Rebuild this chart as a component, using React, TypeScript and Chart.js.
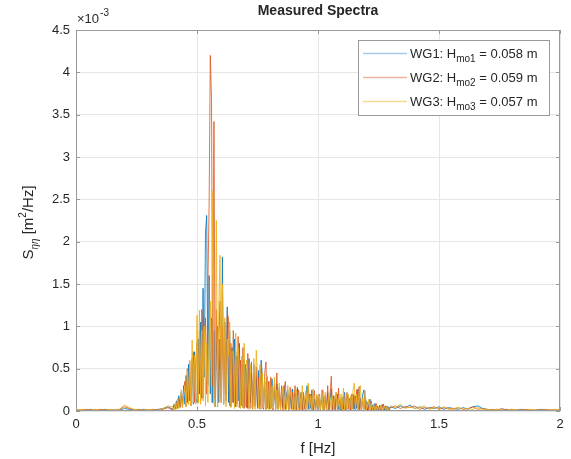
import { useEffect, useRef } from 'react';
import { Chart, registerables } from 'chart.js';
Chart.register(...registerables);

// Frequency grids [Hz]: coarse below 0.4 Hz, fine in the energetic band, coarse above 1.3 Hz
const fLow = Array.from({ length: 20 }, (_, i) => +(i * 0.02).toFixed(3));
const fMid = Array.from({ length: 180 }, (_, i) => +(0.4 + i * 0.005).toFixed(3));
const fHigh = Array.from({ length: 36 }, (_, i) => +(1.3 + i * 0.02).toFixed(3));
const freq = [...fLow, ...fMid, ...fHigh];

// Spectral density values in units of 1e-3 m^2/Hz
const wg1Spec = [
  // 0 - 0.38
  0.01, 0.01, 0.01, 0.02, 0.01, 0.01, 0.02, 0.01, 0.01, 0.01, 0.03, 0.02, 0.01, 0.01, 0.02, 0.01, 0.01, 0.02, 0.03, 0.05,
  // 0.400 - 1.295
  0.02, 0.08, 0.03, 0.12, 0.04, 0.18, 0.05, 0.22, 0.06, 0.30,
  0.08, 0.42, 0.10, 0.55, 0.12, 0.38, 0.62, 0.08, 0.70, 0.15,
  0.10, 0.85, 0.20, 1.05, 0.15, 1.45, 0.40, 2.10, 2.31, 0.30,
  1.60, 0.20, 1.10, 0.10, 0.95, 0.05, 0.70, 1.00, 0.10, 0.85,
  0.15, 1.82, 0.08, 1.05, 0.20, 1.23, 0.10, 0.95, 0.05, 0.75,
  0.10, 0.85, 0.05, 0.65, 0.12, 0.80, 0.06, 0.55, 0.04, 0.60,
  0.08, 0.50, 0.03, 0.62, 0.10, 0.45, 0.05, 0.55, 0.08, 0.40,
  0.04, 0.48, 0.06, 0.60, 0.42, 0.03, 0.35, 0.02, 0.40, 0.05,
  0.30, 0.03, 0.38, 0.05, 0.28, 0.02, 0.32, 0.04, 0.25, 0.02,
  0.22, 0.04, 0.30, 0.02, 0.20, 0.25, 0.02, 0.18, 0.03, 0.26,
  0.02, 0.20, 0.02, 0.28, 0.04, 0.03, 0.22, 0.01, 0.18, 0.03,
  0.16, 0.30, 0.02, 0.20, 0.03, 0.25, 0.01, 0.14, 0.02, 0.18,
  0.02, 0.15, 0.01, 0.20, 0.03, 0.01, 0.18, 0.02, 0.22, 0.01,
  0.15, 0.26, 0.02, 0.18, 0.01, 0.14, 0.20, 0.02, 0.12, 0.01,
  0.16, 0.02, 0.22, 0.01, 0.13, 0.18, 0.01, 0.15, 0.02, 0.20,
  0.02, 0.18, 0.03, 0.26, 0.01, 0.15, 0.02, 0.20, 0.25, 0.02,
  0.12, 0.01, 0.08, 0.14, 0.01, 0.07, 0.01, 0.09, 0.01, 0.06,
  0.01, 0.07, 0.01, 0.05, 0.08, 0.01, 0.06, 0.01, 0.05, 0.01,
  // 1.30 - 2.00
  0.05, 0.03, 0.06, 0.04, 0.07, 0.03, 0.05, 0.02, 0.04, 0.03,
  0.05, 0.02, 0.04, 0.03, 0.02, 0.04, 0.02, 0.05, 0.06, 0.03,
  0.02, 0.01, 0.02, 0.01, 0.02, 0.01, 0.01, 0.02, 0.01, 0.01,
  0.01, 0.02, 0.01, 0.01, 0.01, 0.01,
];

const wg2Spec = [
  0.01, 0.01, 0.02, 0.01, 0.01, 0.02, 0.01, 0.01, 0.01, 0.02, 0.05, 0.03, 0.01, 0.02, 0.01, 0.01, 0.02, 0.01, 0.02, 0.04,
  0.01, 0.06, 0.02, 0.10, 0.03, 0.14, 0.04, 0.20, 0.05, 0.26,
  0.35, 0.05, 0.50, 0.08, 0.58, 0.06, 0.45, 0.70, 0.10, 0.55,
  0.80, 0.10, 0.95, 0.12, 1.20, 0.15, 0.90, 1.10, 0.20, 1.50,
  2.40, 4.20, 3.67, 0.30, 3.42, 0.15, 1.20, 0.05, 0.80, 1.30,
  0.10, 1.00, 0.08, 0.85, 0.12, 1.15, 1.10, 0.06, 0.80, 0.10,
  0.95, 0.05, 0.70, 0.08, 0.88, 0.04, 0.60, 0.06, 0.75, 0.03,
  0.55, 0.04, 0.68, 0.05, 0.03, 0.58, 0.02, 0.45, 0.05, 0.52,
  0.03, 0.40, 0.02, 0.50, 0.04, 0.02, 0.45, 0.58, 0.03, 0.35,
  0.02, 0.40, 0.04, 0.01, 0.32, 0.03, 0.45, 0.02, 0.28, 0.03,
  0.30, 0.01, 0.24, 0.35, 0.02, 0.20, 0.01, 0.28, 0.02, 0.22,
  0.02, 0.30, 0.01, 0.18, 0.25, 0.01, 0.20, 0.01, 0.22, 0.02,
  0.01, 0.18, 0.28, 0.02, 0.20, 0.01, 0.15, 0.24, 0.01, 0.16,
  0.02, 0.20, 0.01, 0.15, 0.25, 0.01, 0.18, 0.02, 0.30, 0.02,
  0.20, 0.41, 0.01, 0.18, 0.02, 0.22, 0.01, 0.27, 0.01, 0.15,
  0.01, 0.18, 0.02, 0.01, 0.22, 0.02, 0.15, 0.01, 0.20, 0.02,
  0.18, 0.01, 0.25, 0.02, 0.29, 0.03, 0.01, 0.15, 0.02, 0.18,
  0.01, 0.10, 0.01, 0.08, 0.12, 0.01, 0.07, 0.01, 0.09, 0.01,
  0.01, 0.06, 0.01, 0.08, 0.01, 0.05, 0.01, 0.06, 0.01, 0.04,
  0.04, 0.06, 0.03, 0.05, 0.04, 0.06, 0.02, 0.04, 0.03, 0.05,
  0.02, 0.04, 0.03, 0.02, 0.04, 0.02, 0.03, 0.05, 0.02, 0.03,
  0.01, 0.02, 0.01, 0.03, 0.01, 0.02, 0.01, 0.01, 0.02, 0.01,
  0.01, 0.01, 0.02, 0.01, 0.01, 0.01,
];

const wg3Spec = [
  0.01, 0.02, 0.01, 0.01, 0.02, 0.01, 0.01, 0.02, 0.01, 0.02, 0.07, 0.04, 0.02, 0.01, 0.01, 0.02, 0.01, 0.01, 0.03, 0.06,
  0.05, 0.01, 0.09, 0.02, 0.15, 0.03, 0.08, 0.25, 0.04, 0.20,
  0.30, 0.05, 0.48, 0.08, 0.60, 0.06, 0.84, 0.10, 0.66, 0.08,
  1.13, 0.10, 1.19, 0.08, 0.95, 0.12, 1.00, 0.06, 0.80, 0.10,
  0.90, 1.30, 0.10, 2.60, 0.08, 0.05, 2.25, 0.06, 1.20, 1.84,
  0.10, 1.50, 0.08, 1.10, 0.05, 0.85, 0.65, 1.05, 0.04, 0.70,
  0.70, 0.03, 0.92, 0.05, 0.75, 0.50, 0.03, 0.65, 0.04, 0.80,
  0.05, 0.60, 0.45, 0.02, 0.55, 0.04, 0.03, 0.62, 0.02, 0.72,
  0.40, 0.03, 0.55, 0.02, 0.45, 0.04, 0.38, 0.01, 0.42, 0.02,
  0.35, 0.02, 0.30, 0.03, 0.40, 0.01, 0.25, 0.02, 0.33, 0.01,
  0.20, 0.28, 0.01, 0.22, 0.02, 0.30, 0.01, 0.20, 0.25, 0.01,
  0.18, 0.01, 0.26, 0.02, 0.01, 0.22, 0.02, 0.30, 0.01, 0.16,
  0.24, 0.02, 0.33, 0.01, 0.18, 0.02, 0.26, 0.03, 0.01, 0.20,
  0.01, 0.18, 0.02, 0.25, 0.01, 0.01, 0.22, 0.02, 0.01, 0.20,
  0.12, 0.01, 0.18, 0.02, 0.15, 0.22, 0.01, 0.14, 0.02, 0.20,
  0.02, 0.27, 0.01, 0.15, 0.02, 0.20, 0.01, 0.18, 0.02, 0.25,
  0.33, 0.02, 0.20, 0.01, 0.22, 0.30, 0.02, 0.15, 0.01, 0.24,
  0.02, 0.06, 0.14, 0.01, 0.09, 0.01, 0.08, 0.01, 0.06, 0.01,
  0.05, 0.01, 0.07, 0.01, 0.02, 0.06, 0.01, 0.05, 0.01, 0.04,
  0.06, 0.04, 0.08, 0.03, 0.05, 0.03, 0.04, 0.06, 0.02, 0.04,
  0.03, 0.05, 0.02, 0.03, 0.04, 0.02, 0.03, 0.02, 0.04, 0.02,
  0.02, 0.01, 0.02, 0.01, 0.01, 0.02, 0.01, 0.01, 0.01, 0.02,
  0.01, 0.01, 0.01, 0.01, 0.02, 0.01,
];

const seriesNames = ['WG1', 'WG2', 'WG3'];
const hmoLabels = ['0.058', '0.059', '0.057'];
const lineColors = ['rgba(0,114,189,0.8)', 'rgba(217,83,25,0.8)', 'rgba(237,177,32,0.88)'];
const legendColors = ['#a3cbed', '#f0b59c', '#f5d98f'];
const xTicks = [0, 0.5, 1, 1.5, 2];
const yTicks = [0, 0.5, 1, 1.5, 2, 2.5, 3, 3.5, 4, 4.5];

const FONT = '"Liberation Sans", Arial, Helvetica, sans-serif';
const TXT = '#262626';

const decorPlugin = {
  id: 'decor',
  afterDraw(chart: any) {
    const { ctx, chartArea: a } = chart;
    const xs = chart.scales.x;
    const ys = chart.scales.y;
    ctx.save();
    // axes box
    ctx.strokeStyle = '#9a9a9a';
    ctx.lineWidth = 1;
    ctx.strokeRect(a.left + 0.5, a.top + 0.5, a.right - a.left - 1, a.bottom - a.top - 1);
    // inward tick marks
    ctx.beginPath();
    xTicks.forEach((v) => {
      const px = Math.round(xs.getPixelForValue(v)) + 0.5;
      ctx.moveTo(px, a.bottom); ctx.lineTo(px, a.bottom - 4);
      ctx.moveTo(px, a.top); ctx.lineTo(px, a.top + 4);
    });
    yTicks.forEach((v) => {
      const py = Math.round(ys.getPixelForValue(v)) + 0.5;
      ctx.moveTo(a.left, py); ctx.lineTo(a.left + 4, py);
      ctx.moveTo(a.right, py); ctx.lineTo(a.right - 4, py);
    });
    ctx.stroke();

    ctx.fillStyle = TXT;
    ctx.textBaseline = 'alphabetic';
    // title
    ctx.font = `bold 14px ${FONT}`;
    ctx.textAlign = 'center';
    ctx.fillText('Measured Spectra', (a.left + a.right) / 2, 15);
    // exponent label
    ctx.textAlign = 'left';
    ctx.font = `13px ${FONT}`;
    ctx.fillText('\u00d710', a.left + 1, 23);
    const w10 = ctx.measureText('\u00d710').width;
    ctx.font = `10px ${FONT}`;
    ctx.fillText('-3', a.left + 1 + w10 + 1, 16);
    // x title
    ctx.font = `15px ${FONT}`;
    ctx.textAlign = 'center';
    ctx.fillText('f [Hz]', (a.left + a.right) / 2, 453);

    // y title (rotated)
    ctx.save();
    ctx.translate(33, (a.top + a.bottom) / 2 + 2);
    ctx.rotate(-Math.PI / 2);
    ctx.textAlign = 'left';
    const parts: [string, string, number][] = [
      ['S', `15px ${FONT}`, 0],
      ['\u03b7\u03b7', `italic 10px ${FONT}`, 5],
      [' [m', `15px ${FONT}`, 0],
      ['2', `10px ${FONT}`, -7],
      ['/Hz]', `15px ${FONT}`, 0],
    ];
    let total = 0;
    parts.forEach(([t, f]) => { ctx.font = f; total += ctx.measureText(t).width; });
    let cx = -total / 2;
    parts.forEach(([t, f, dy]) => {
      ctx.font = f;
      ctx.fillText(t, cx, dy);
      cx += ctx.measureText(t).width;
    });
    ctx.restore();

    // legend
    const lx = 358, ly = 40, lw = 191, lh = 75;
    ctx.fillStyle = '#ffffff';
    ctx.fillRect(lx, ly, lw, lh);
    ctx.strokeStyle = '#9a9a9a';
    ctx.strokeRect(lx + 0.5, ly + 0.5, lw, lh);
    seriesNames.forEach((name, i) => {
      const ry = 53 + i * 24;
      ctx.strokeStyle = legendColors[i];
      ctx.lineWidth = 1.5;
      ctx.beginPath();
      ctx.moveTo(363, ry + 0.5);
      ctx.lineTo(407, ry + 0.5);
      ctx.stroke();
      ctx.fillStyle = TXT;
      ctx.textAlign = 'left';
      let tx = 410;
      ctx.font = `13px ${FONT}`;
      const a1 = `${name}: H`;
      ctx.fillText(a1, tx, ry + 5);
      tx += ctx.measureText(a1).width;
      ctx.font = `10px ${FONT}`;
      const sub = `mo${i + 1}`;
      ctx.fillText(sub, tx, ry + 9);
      tx += ctx.measureText(sub).width;
      ctx.font = `13px ${FONT}`;
      ctx.fillText(` = ${hmoLabels[i]} m`, tx, ry + 5);
    });
    ctx.restore();
  },
};

export default function App() {
  const ref = useRef<HTMLCanvasElement>(null);
  useEffect(() => {
    document.body.style.margin = '0';
    const specs = [wg1Spec, wg2Spec, wg3Spec];
    const chart = new Chart(ref.current as HTMLCanvasElement, {
      type: 'line',
      data: {
        datasets: specs.map((s, i) => ({
          label: seriesNames[i],
          data: freq.map((f, k) => ({ x: f, y: s[k] })),
          borderColor: lineColors[i],
          borderWidth: 1,
          pointRadius: 0,
          tension: 0,
          fill: false,
          order: 3 - i,
        })),
      },
      options: {
        responsive: false,
        devicePixelRatio: 1,
        animation: false,
        layout: { padding: { top: 30, right: 11, left: 0, bottom: 0 } },
        plugins: { legend: { display: false }, tooltip: { enabled: false }, title: { display: false } },
        scales: {
          x: {
            type: 'linear',
            min: 0,
            max: 2,
            afterBuildTicks: (s: any) => { s.ticks = xTicks.map((v) => ({ value: v })); },
            afterFit: (s: any) => { s.height = 48; },
            ticks: {
              callback: (v: any) => String(v),
              padding: 6,
              color: TXT,
              font: { family: FONT, size: 13 },
              maxRotation: 0,
            },
            grid: { color: '#e6e6e6', drawTicks: false },
            border: { display: false },
          },
          y: {
            type: 'linear',
            min: 0,
            max: 4.5,
            afterBuildTicks: (s: any) => { s.ticks = yTicks.map((v) => ({ value: v })); },
            afterFit: (s: any) => { s.width = 76; },
            ticks: {
              callback: (v: any) => String(v),
              padding: 6,
              color: TXT,
              font: { family: FONT, size: 13 },
            },
            grid: { color: '#e6e6e6', drawTicks: false },
            border: { display: false },
          },
        },
      },
      plugins: [decorPlugin],
    } as any);
    return () => chart.destroy();
  }, []);
  return (
    <div style={{ position: 'absolute', left: 0, top: 0, width: 571, height: 459, background: '#fff' }}>
      <canvas ref={ref} width={571} height={459} style={{ display: 'block', width: 571, height: 459 }} />
    </div>
  );
}
